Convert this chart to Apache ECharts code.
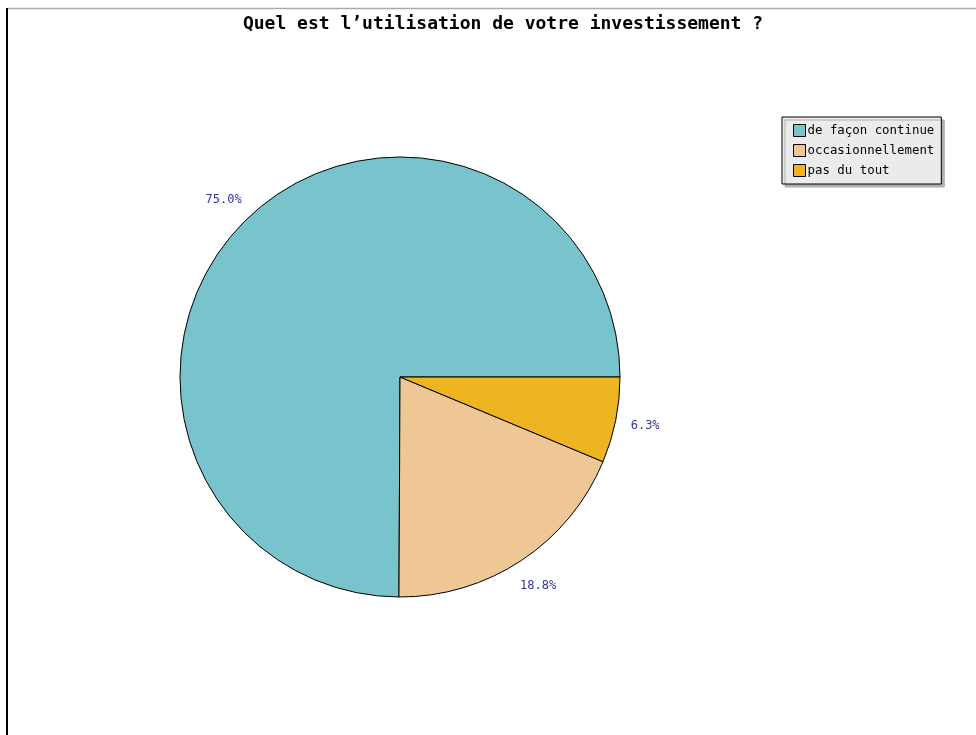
<!DOCTYPE html>
<html>
<head>
<meta charset="utf-8">
<script src="https://cdn.jsdelivr.net/npm/echarts@6/dist/echarts.min.js"></script>
<style>html,body{margin:0;padding:0;background:#fff;}#chart{width:976px;height:735px;}</style>
</head>
<body>
<div id="chart"></div>
<script>
const titleText = "Quel est l’utilisation de votre investissement ?";
const categories = ["de façon continue", "occasionnellement", "pas du tout"];
const values = [75.0, 18.8, 6.3];
const colors = ["#79C3CC", "#EEC795", "#EEB422"];

const chart = echarts.init(document.getElementById('chart'));
const mono = '"DejaVu Sans Mono", "Liberation Mono", monospace';
const dataItems = categories.map((c, i) => ({ name: c, value: values[i], itemStyle: { color: colors[i] } }));

chart.setOption({
  animation: false,
  backgroundColor: '#ffffff',
  title: {
    text: titleText,
    left: 498, top: 10, textAlign: 'center',
    textStyle: { fontFamily: mono, fontWeight: 'bold', fontSize: 18, color: '#000' }
  },
  legend: {
    orient: 'vertical',
    left: 782, top: 117,
    data: categories,
    icon: 'rect',
    itemWidth: 12, itemHeight: 12, itemGap: 7,
    padding: [7, 7, 7, 11],
    backgroundColor: '#ebebeb',
    borderColor: '#000', borderWidth: 1,
    shadowColor: '#b0b0b0', shadowOffsetX: 3, shadowOffsetY: 3, shadowBlur: 0,
    itemStyle: { borderColor: '#000', borderWidth: 1 },
    textStyle: { fontFamily: mono, fontSize: 12.4, color: '#000', padding: [0, 0, 0, -3] },
    selectedMode: false
  },
  graphic: [
    { type: 'line', shape: { x1: 7, y1: 8.5, x2: 976, y2: 8.5 }, style: { stroke: '#aaaaaa', lineWidth: 1.5 } },
    { type: 'line', shape: { x1: 7, y1: 8, x2: 7, y2: 735 }, style: { stroke: '#000', lineWidth: 2 } }
  ],
  series: [
    {
      type: 'pie',
      center: [400, 377],
      radius: [0, 220],
      startAngle: 0,
      clockwise: false,
      silent: true,
      data: dataItems,
      itemStyle: { borderColor: '#000', borderWidth: 1 },
      label: { show: false },
      labelLine: { show: false }
    },
    {
      type: 'pie',
      center: [400, 377],
      radius: [238, 256],
      startAngle: 0,
      clockwise: false,
      silent: true,
      data: categories.map((c, i) => ({ name: c, value: values[i] })),
      itemStyle: { color: 'rgba(0,0,0,0)', borderWidth: 0 },
      label: {
        show: true, position: 'inside', rotate: 0,
        formatter: p => p.value.toFixed(1) + '%',
        fontFamily: mono, fontSize: 12, color: '#3333AA'
      },
      labelLine: { show: false }
    }
  ]
});
</script>
</body>
</html>
